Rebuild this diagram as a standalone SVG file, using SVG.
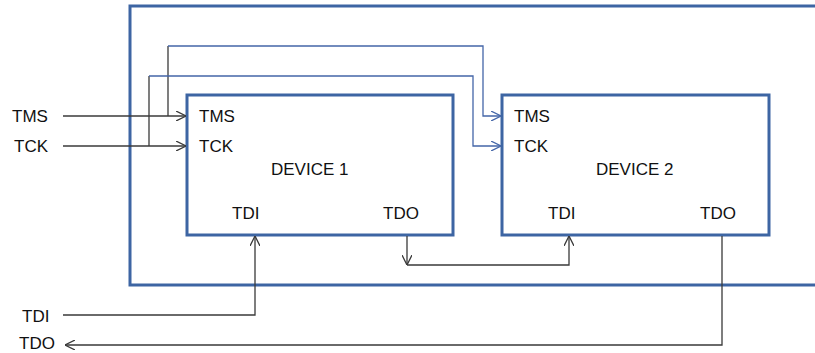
<svg xmlns="http://www.w3.org/2000/svg" width="815" height="353" viewBox="0 0 815 353">
<style>
.box{fill:#fff;stroke:#3d65a3;stroke-width:3}
.ln{fill:none;stroke:#3a3a3a;stroke-width:1.3}
.bl{fill:none;stroke:#4466a8;stroke-width:1.3}
text{font-family:"Liberation Sans",Arial,sans-serif;font-size:17px;fill:#111}
</style>
<defs>
<marker id="ah" viewBox="0 0 10 10" refX="10" refY="5" markerWidth="10" markerHeight="10" markerUnits="userSpaceOnUse" orient="auto">
<path d="M0,0 L10,5 L0,10" fill="none" stroke="#3a3a3a" stroke-width="1.3"/>
</marker>
<marker id="ahb" viewBox="0 0 10 10" refX="10" refY="5" markerWidth="10" markerHeight="10" markerUnits="userSpaceOnUse" orient="auto">
<path d="M0,0 L10,5 L0,10" fill="none" stroke="#4466a8" stroke-width="1.3"/>
</marker>
</defs>
<rect id="board" x="130" y="6" width="700" height="279" fill="none" stroke="#3d65a3" stroke-width="3"/>
<g id="device1">
<rect class="box" x="187" y="95" width="266" height="140"/>
<text x="199" y="122">TMS</text>
<text x="199" y="152">TCK</text>
<text x="271" y="175">DEVICE 1</text>
<text x="232" y="219">TDI</text>
<text x="383" y="219">TDO</text>
</g>
<g id="device2">
<rect class="box" x="502" y="95" width="267" height="140"/>
<text x="514" y="122">TMS</text>
<text x="514" y="152">TCK</text>
<text x="596" y="175">DEVICE 2</text>
<text x="548" y="219">TDI</text>
<text x="700" y="219">TDO</text>
</g>
<g id="labels">
<text x="12" y="122">TMS</text>
<text x="14" y="152">TCK</text>
<text x="22" y="322">TDI</text>
<text x="19" y="349">TDO</text>
</g>
<g id="connectors">
<path class="ln" d="M63,116 H186" marker-end="url(#ah)"/>
<path class="ln" d="M63,146 H186" marker-end="url(#ah)"/>
<path class="ln" d="M168,116 V46"/>
<path class="ln" d="M149,146 V76"/>
<path class="bl" d="M168,46 H483 V116 H501" marker-end="url(#ahb)"/>
<path class="bl" d="M149,76 H473 V146 H501" marker-end="url(#ahb)"/>
<path class="ln" d="M63,315 H255 V236" marker-end="url(#ah)"/>
<path class="ln" d="M407,236 V265" marker-end="url(#ah)"/>
<path class="ln" d="M407,265 H569 V236" marker-end="url(#ah)"/>
<path class="ln" d="M722,236 V345 H65" marker-end="url(#ah)"/>
</g>
</svg>
